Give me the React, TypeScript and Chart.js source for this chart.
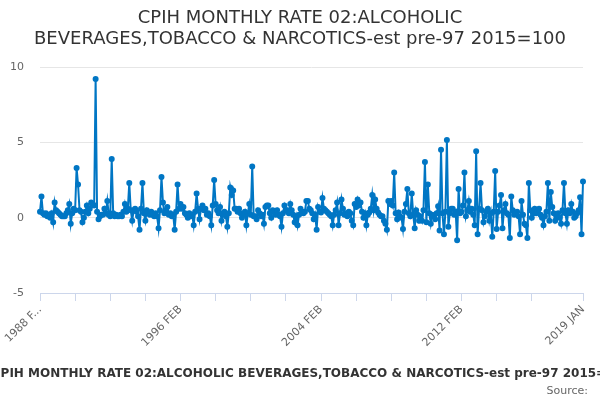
import { useEffect, useRef } from 'react';
import { Chart, registerables } from 'chart.js';

Chart.register(...registerables);

const TITLE = ['CPIH MONTHLY RATE 02:ALCOHOLIC', 'BEVERAGES,TOBACCO & NARCOTICS-est pre-97 2015=100'];
const CAPTION = 'CPIH MONTHLY RATE 02:ALCOHOLIC BEVERAGES,TOBACCO & NARCOTICS-est pre-97 2015=100';
const SOURCE = 'Source:';

const MONTHS = ['JAN', 'FEB', 'MAR', 'APR', 'MAY', 'JUN', 'JUL', 'AUG', 'SEP', 'OCT', 'NOV', 'DEC'];
const FIRST_YEAR = 1988;
const MONTH_COUNT = 372; // 1988 FEB .. 2019 JAN

const Y_TICKS = [-5, 0, 5, 10];

// monthly rate, %, each row runs Feb..Jan
const rate1988to1995 = [
  0.4, 1.4, 0.3, 0.2, 0.3, 0.1, 0.2, 0.0, 0.3, -0.3, 1.0, 0.5,
  0.4, 0.3, 0.2, 0.1, 0.1, 0.1, 0.3, 0.5, 0.9, -0.4, 0.3, 0.6,
  0.5, 3.3, 2.2, 0.5, 0.4, -0.3, 0.0, 0.4, 0.8, 0.3, 0.6, 1.0,
  0.9, 0.8, 9.2, 0.4, -0.1, 0.1, 0.2, 0.2, 0.6, 0.3, 1.1, 0.2,
  0.1, 3.9, 0.3, 0.1, 0.2, 0.1, 0.1, 0.2, 0.1, 0.4, 0.9, 0.4,
  0.6, 2.3, 0.5, -0.2, 0.5, 0.6, 0.4, 0.1, -0.8, 0.6, 2.3, 0.3,
  -0.2, 0.5, 0.3, 0.2, 0.4, 0.2, 0.1, 0.3, 0.1, -0.7, 0.5, 2.7,
  1.0, 0.3, 0.5, 0.7, 0.2, 0.3, 0.1, 0.2, -0.8, 0.4, 2.2, 0.6,
];
const rate1996to2003 = [
  0.9, 0.6, 0.7, 0.3, 0.2, 0.0, 0.3, 0.1, 0.2, -0.5, 0.4, 1.6,
  0.6, -0.1, 0.6, 0.8, 0.5, 0.6, 0.2, 0.3, 0.1, -0.5, 0.8, 2.5,
  0.9, 0.5, 0.3, 0.7, -0.2, 0.3, 0.4, 0.1, -0.6, 0.3, 2.0, 1.5,
  1.8, 0.6, 0.6, 0.4, 0.6, 0.3, 0.0, 0.2, 0.4, -0.5, 0.3, 0.9,
  0.2, 3.4, 0.1, 0.1, -0.1, 0.5, 0.3, 0.1, 0.2, -0.4, 0.7, 0.8,
  0.8, 0.3, 0.0, 0.5, 0.4, 0.2, 0.5, 0.2, 0.1, -0.6, 0.3, 0.8,
  0.5, 0.5, 0.3, 0.9, 0.5, 0.2, -0.3, 0.1, -0.5, 0.2, 0.6, 0.4,
  0.3, 0.4, 1.1, 1.1, 0.6, 0.5, 0.3, -0.1, 0.2, -0.8, 0.7, 0.4,
];
const rate2004to2011 = [
  0.35, 1.3, 0.6, 0.5, 0.4, 0.3, 0.2, 0.1, -0.5, 0.2, 0.5, 1.0,
  -0.5, 0.3, 1.2, 0.6, 0.2, 0.3, 0.1, 0.4, 0.3, -0.2, -0.5, 0.9,
  0.7, 1.2, 0.8, 1.0, 0.4, 0.0, 0.3, -0.5, 0.2, 0.35, 0.6, 1.5,
  0.5, 1.2, 0.6, 0.35, 0.2, 0.1, 0.1, -0.2, -0.4, -0.8, 1.1, 0.9,
  1.1, 0.8, 3.0, 0.3, -0.1, 0.35, 0.1, 0.0, -0.75, 0.4, 0.9, 1.9,
  0.3, 0.1, 1.6, 0.2, -0.7, 0.5, 0.2, -0.2, 0.1, -0.2, 0.5, 3.7,
  -0.3, 2.2, 0.3, -0.4, 0.2, 0.1, -0.1, 0.3, 0.75, -0.85, 4.5, 0.3,
  -1.1, 0.4, 5.15, -0.6, 0.3, 0.6, 0.6, 0.2, 0.4, -1.5, 1.9, 0.3,
];
const rate2012to2019 = [
  0.4, 0.8, 3.0, 0.1, 0.5, 1.1, 0.4, 0.6, 0.2, -0.5, 4.4, -1.1,
  0.6, 2.3, 0.5, -0.3, 0.1, 0.4, 0.6, -0.2, 0.3, -1.26, 0.4, 3.1,
  -0.75, 0.4, 0.8, 1.5, -0.7, 0.5, 0.9, 0.3, 0.2, -1.35, 1.4, 0.5,
  0.2, 0.3, 0.4, 0.1, -1.1, 1.1, 0.2, -0.4, -0.5, -1.35, 2.3, 0.5,
  0.0, 0.3, 0.6, 0.3, 0.4, 0.6, 0.2, 0.0, -0.5, 0.1, 0.4, 2.3,
  -0.2, 1.7, 0.7, 0.3, -0.2, 0.1, 0.3, 0.0, -0.4, 0.5, 2.3, 0.3,
  -0.4, 0.5, 0.3, 0.9, 0.4, 0.0, 0.1, 0.3, 0.5, 1.35, -1.1, 2.4,
];

const rates = [...rate1988to1995, ...rate1996to2003, ...rate2004to2011, ...rate2012to2019];

const labels: string[] = [];
for (let i = 0; i < MONTH_COUNT; i++) {
  const m = i + 1;
  labels.push(`${FIRST_YEAR + Math.floor(m / 12)} ${MONTHS[m % 12]}`);
}

const LAST = MONTH_COUNT - 1;
const hasTick = (i: number) => i === LAST || (i % 24 === 0 && i <= 336);
const hasLabel = (i: number) => i === LAST || i % 96 === 0;

// title, x caption and source line, drawn without the width squeeze chart.js applies
const textPlugin = {
  id: 'texts',
  afterDraw(chart: Chart) {
    const { ctx, chartArea, width } = chart;
    ctx.save();
    ctx.textBaseline = 'middle';
    ctx.textAlign = 'center';
    ctx.fillStyle = '#333333';
    ctx.font = '18px "DejaVu Sans"';
    TITLE.forEach((line, i) => ctx.fillText(line, width / 2, 18 + i * 21));
    ctx.font = 'bold 12px "DejaVu Sans"';
    ctx.fillText(CAPTION, (chartArea.left + chartArea.right) / 2, 374);
    ctx.fillStyle = '#666666';
    ctx.font = '11px "DejaVu Sans"';
    ctx.textAlign = 'right';
    ctx.fillText(SOURCE, 588, 391);
    ctx.restore();
  },
};

const App: React.FC = () => {
  const canvasRef = useRef<HTMLCanvasElement | null>(null);
  const chartRef = useRef<Chart | null>(null);

  useEffect(() => {
    const ctx = canvasRef.current?.getContext('2d');
    if (!ctx) return;
    Chart.defaults.font.family = '"DejaVu Sans", sans-serif';

    chartRef.current = new Chart(ctx, {
      type: 'line',
      data: {
        labels,
        datasets: [
          {
            label: CAPTION,
            data: rates,
            borderColor: '#0076c4',
            backgroundColor: '#0076c4',
            borderWidth: 2,
            pointRadius: 2,
            pointHoverRadius: 3,
            tension: 0,
          },
        ],
      },
      options: {
        animation: false,
        responsive: true,
        maintainAspectRatio: false,
        layout: { padding: { top: 67, right: 17, bottom: 0, left: 0 } },
        plugins: {
          legend: { display: false },
          tooltip: { enabled: false },
          title: { display: false },
        },
        scales: {
          x: {
            type: 'category',
            afterFit: (scale: any) => {
              scale.height = 107;
            },
            grid: {
              drawOnChartArea: false,
              drawTicks: true,
              tickLength: 8,
              tickColor: (c: any) => (hasTick(c.index) ? '#ccd6eb' : 'rgba(0,0,0,0)'),
            },
            border: { display: true, color: '#ccd6eb', width: 1 },
            ticks: {
              autoSkip: false,
              maxRotation: 45,
              minRotation: 45,
              padding: 2,
              color: '#666666',
              font: { size: 11 },
              callback: (_v: any, i: number) => {
                if (!hasLabel(i)) return '';
                return i === 0 ? labels[i].slice(0, 6) + '...' : labels[i];
              },
            },
          },
          y: {
            min: Y_TICKS[0],
            max: Y_TICKS[Y_TICKS.length - 1],
            afterFit: (scale: any) => {
              scale.width = 40;
            },
            afterBuildTicks: (scale: any) => {
              scale.ticks = Y_TICKS.map((v) => ({ value: v }));
            },
            grid: { color: '#e6e6e6', drawTicks: false },
            border: { display: false },
            ticks: {
              padding: 16,
              color: '#666666',
              font: { size: 11 },
            },
          },
        },
      },
      plugins: [textPlugin],
    });
    return () => chartRef.current?.destroy();
  }, []);

  return (
    <div style={{ position: 'absolute', left: 0, top: 0, width: 600, height: 400, background: '#ffffff' }}>
      <canvas ref={canvasRef} />
    </div>
  );
};

export default App;
